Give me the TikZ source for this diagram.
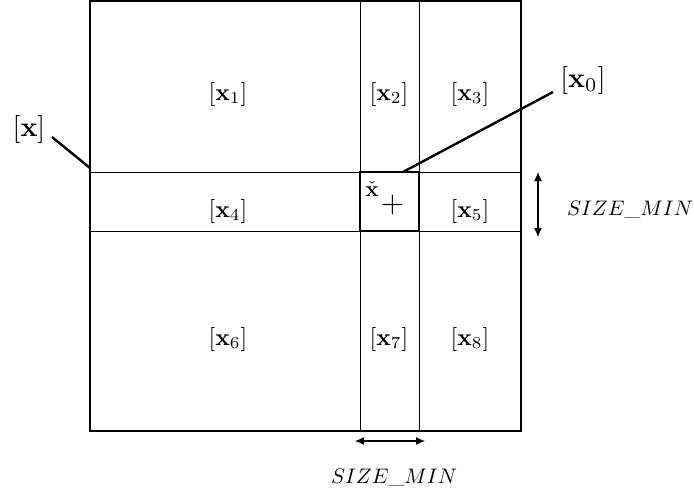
\documentclass[tikz,border=0pt]{standalone}
\usetikzlibrary{arrows.meta}
\tikzset{
  thickline/.style={line width=2.4pt},
  thinline/.style={line width=0.9pt},
  lab/.style={inner sep=0pt, scale=2.4},
  biglab/.style={inner sep=0pt, scale=2.8},
  dimlab/.style={inner sep=0pt, scale=2.1},
  dimarrow/.style={line width=1.1pt, {Latex[length=9pt,width=8pt]}-{Latex[length=9pt,width=8pt]}}
}
\begin{document}
\begin{tikzpicture}[x=1pt,y=-1pt]
\useasboundingbox (0,0) rectangle (694,498);
% grid lines
\draw[thinline] (360,1) -- (360,431);
\draw[thinline] (419,1) -- (419,431);
\draw[thinline] (90,172) -- (521,172);
\draw[thinline] (90,231) -- (521,231);
% outer square
\draw[thickline] (90,1.2) rectangle (521,431);
% bold centre box
\draw[thickline] (360,172) rectangle (419,231);
% region labels
\node[lab] (x1) at (228,94) {$[\mathbf{x}_1]$};
\node[lab] (x2) at (389,94) {$[\mathbf{x}_2]$};
\node[lab] (x3) at (470,94) {$[\mathbf{x}_3]$};
\node[lab] (x4) at (228,211) {$[\mathbf{x}_4]$};
\node[lab] (x5) at (470,211) {$[\mathbf{x}_5]$};
\node[lab] (x6) at (228,339) {$[\mathbf{x}_6]$};
\node[lab] (x7) at (389,339) {$[\mathbf{x}_7]$};
\node[lab] (x8) at (470,339) {$[\mathbf{x}_8]$};
% centre marks
\node[inner sep=0pt, scale=2.2] (xc) at (372,189) {$\check{\mathbf{x}}$};
\node[inner sep=0pt, scale=3.0] (plus) at (392.5,205) {$+$};
% outer labels and leaders
\node[biglab] (X) at (29,129) {$[\mathbf{x}]$};
\node[biglab] (X0) at (583,80) {$[\mathbf{x}_0]$};
\coordinate (Xend) at (90,168);
\coordinate (X0end) at (403,172);
\coordinate (Xstart) at (52,137);
\coordinate (X0start) at (553,92);
\draw[thickline] (Xstart) -- (Xend);
\draw[thickline] (X0start) -- (X0end);
% size arrows
\coordinate (va) at (538,172);
\coordinate (vb) at (538,237);
\draw[dimarrow] (va) -- (vb);
\coordinate (ha) at (355,441);
\coordinate (hb) at (425,441);
\draw[dimarrow] (ha) -- (hb);
\node[dimlab] (sv) at (630,210) {$SIZE\_MIN$};
\node[dimlab] (sh) at (394,478) {$SIZE\_MIN$};
\end{tikzpicture}
\end{document}
